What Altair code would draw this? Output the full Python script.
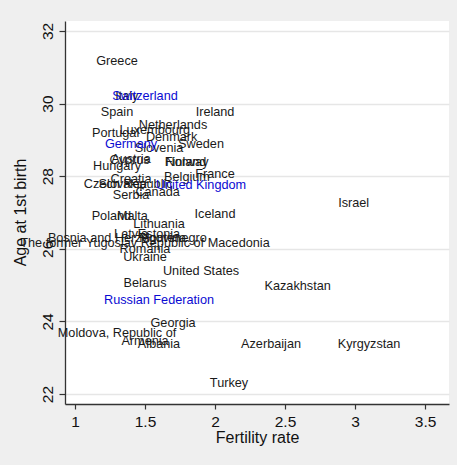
import altair as alt
import pandas as pd

# Mean age of mothers at first birth against total fertility rate
countries = [
    "Greece", "Italy", "Spain", "Ireland", "Netherlands", "Luxembourg",
    "Portugal", "Denmark", "Slovenia", "Sweden", "Austria", "Cyprus",
    "Hungary", "Finland", "Norway", "France", "Belgium", "Croatia",
    "Czech Republic", "Slovakia", "Canada", "Serbia", "Israel", "Iceland",
    "Poland", "Malta", "Lithuania", "Latvia", "Estonia",
    "Bosnia and Herzegovina", "Montenegro",
    "The former Yugoslav Republic of Macedonia", "Romania", "Ukraine",
    "United States", "Belarus", "Kazakhstan", "Georgia",
    "Moldova, Republic of", "Armenia", "Albania", "Azerbaijan",
    "Kyrgyzstan", "Turkey",
    "Switzerland", "Germany", "United Kingdom", "Russian Federation",
]
fertility = [
    1.30, 1.37, 1.30, 2.00, 1.70, 1.57,
    1.29, 1.69, 1.60, 1.90, 1.40, 1.39,
    1.30, 1.79, 1.80, 2.00, 1.80, 1.40,
    1.38, 1.34, 1.59, 1.40, 2.99, 2.00,
    1.26, 1.41, 1.60, 1.40, 1.60,
    1.30, 1.70,
    1.50, 1.50, 1.50,
    1.90, 1.50, 2.59, 1.70,
    1.30, 1.50, 1.60, 2.40,
    3.10, 2.10,
    1.50, 1.40, 1.90, 1.60,
]
age_first_birth = [
    31.17, 30.20, 29.78, 29.78, 29.41, 29.27,
    29.18, 29.07, 28.77, 28.88, 28.47, 28.45,
    28.28, 28.40, 28.40, 28.06, 27.99, 27.91,
    27.79, 27.79, 27.57, 27.48, 27.26, 26.96,
    26.90, 26.90, 26.68, 26.41, 26.41,
    26.29, 26.29,
    26.17, 25.99, 25.78,
    25.39, 25.07, 24.98, 23.96,
    23.69, 23.47, 23.38, 23.38,
    23.38, 22.30,
    30.21, 28.88, 27.76, 24.59,
]
highlighted = ["Switzerland", "Germany", "United Kingdom", "Russian Federation"]

df = pd.DataFrame({
    "country": countries,
    "fertility": fertility,
    "age": age_first_birth,
})
df["group"] = ["highlight" if c in highlighted else "other" for c in countries]

FONT = "Liberation Sans"

labels = alt.Chart(df).mark_text(
    font=FONT, fontSize=12.7, align="center", baseline="middle"
).encode(
    x=alt.X(
        "fertility:Q",
        scale=alt.Scale(domain=[0.9286, 3.671], nice=False, zero=False),
        axis=alt.Axis(
            title="Fertility rate",
            values=[1, 1.5, 2, 2.5, 3, 3.5],
            format="~g",
            grid=False,
            domainColor="#333333", domainWidth=1.3,
            tickColor="#333333", tickSize=5, tickWidth=1.2,
            labelFont=FONT, labelFontSize=15.5, labelColor="#111111",
            labelPadding=5, labelFlush=False, labelOverlap=False,
            titleFont=FONT, titleFontSize=16, titleFontWeight="normal",
            titleColor="#111111",
            titleY=33, titleBaseline="middle",
        ),
    ),
    y=alt.Y(
        "age:Q",
        scale=alt.Scale(domain=[21.725, 32.275], nice=False, zero=False),
        axis=alt.Axis(
            title="Age at 1st birth",
            values=[22, 24, 26, 28, 30, 32],
            grid=True, gridColor="#e6e6e6", gridWidth=1.3,
            domainColor="#333333", domainWidth=1.3,
            tickColor="#333333", tickSize=6, tickWidth=1.2,
            labelFont=FONT, labelFontSize=15.5, labelColor="#111111",
            labelAngle=270, labelAlign="center", labelBaseline="alphabetic",
            labelPadding=7, labelFlush=False, labelOverlap=False,
            titleFont=FONT, titleFontSize=16, titleFontWeight="normal",
            titleColor="#111111",
            titleAngle=270, titleAlign="center", titleBaseline="middle",
            titleX=-45, titleY=191,
        ),
    ),
    text="country:N",
    color=alt.Color(
        "group:N",
        scale=alt.Scale(domain=["other", "highlight"], range=["#1a1a1a", "#0a0ad2"]),
        legend=None,
    ),
    order=alt.Order("group:N", sort="descending"),
)

chart = labels.properties(
    width=384,
    height=383,
    autosize=alt.AutoSizeParams(type="none"),
    padding={"left": 65, "top": 21, "right": 8, "bottom": 61},
    background="#efefef",
).configure_view(
    fill="#ffffff", stroke=None
)

chart.save("out.html", embed_options={"renderer": "svg", "actions": False})
